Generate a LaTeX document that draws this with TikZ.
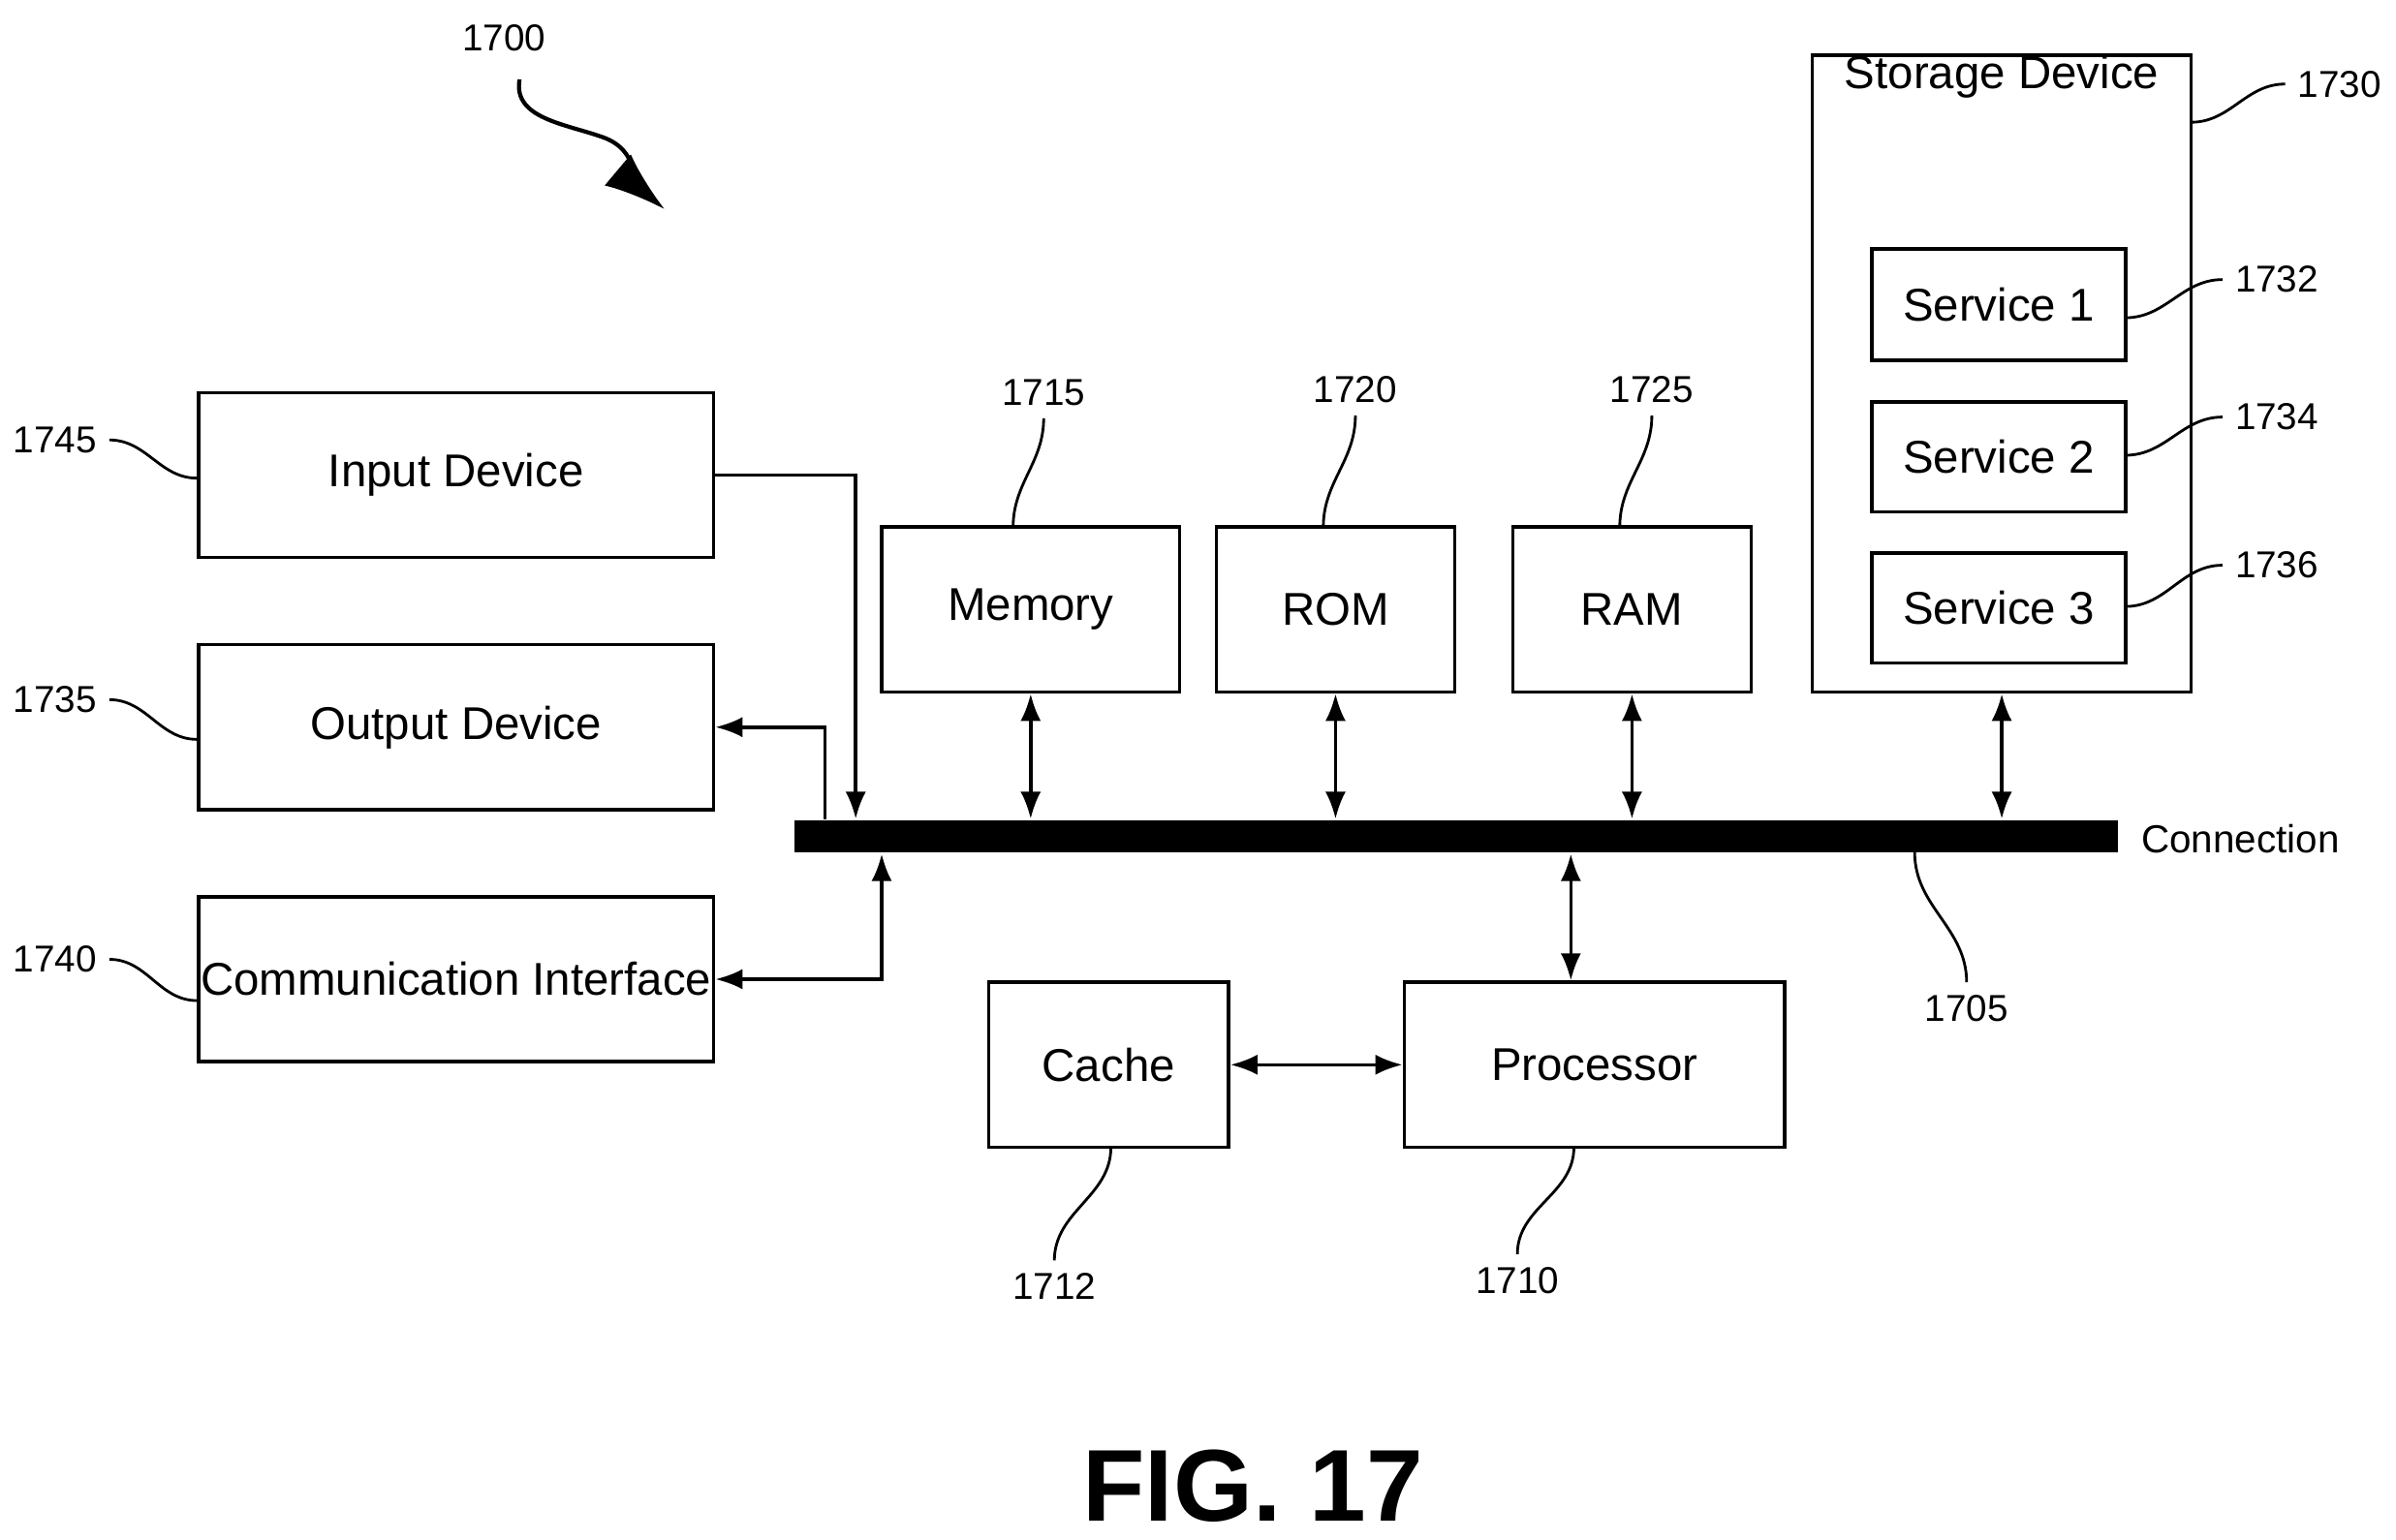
\documentclass[tikz,border=0pt]{standalone}
\usepackage{fontspec}
\setmainfont{Liberation Sans}
\usetikzlibrary{arrows.meta,positioning}

\begin{document}
\begin{tikzpicture}[x=0.01577cm,y=-0.01577cm,thick,
    box/.style={draw,line width=1pt,inner sep=0pt,font=\fontsize{13.5}{15}\selectfont},
    num/.style={font=\fontsize{11}{13}\selectfont},
    lead/.style={line width=0.8pt},
    link/.style={line width=1pt,-{Latex[length=8pt,width=6pt]}},
    both/.style={line width=1pt,{Latex[length=8pt,width=6pt]}-{Latex[length=8pt,width=6pt]}}]
  \useasboundingbox (0,0) rectangle (1568,1007.6);
  % boxes
  \newcommand{\blk}[6]{\node[box,minimum width={(#4-#2)*0.01577cm},minimum height={(#5-#3)*0.01577cm}]
    (#1) at ({(#2+#4)/2},{(#3+#5)/2}) {#6};}
  \blk{input}{130}{257}{467}{365}{Input Device}
  \blk{output}{130}{422}{467}{530}{Output Device}
  \blk{comm}{130}{587}{467}{695}{Communication Interface}
  \blk{mem}{577}{345}{772}{453}{Memory}
  \blk{rom}{796}{345}{952}{453}{ROM}
  \blk{ram}{990}{345}{1146}{453}{RAM}
  \blk{store}{1186}{36}{1434}{453}{}
  \node[box,draw=none,anchor=north] (storetitle) at (store.north) {\raisebox{-6pt}{Storage Device}};
  \blk{sone}{1225}{163}{1391}{236}{Service 1}
  \blk{stwo}{1225}{263}{1391}{335}{Service 2}
  \blk{sthree}{1225}{362}{1391}{434}{Service 3}
  \blk{cache}{647}{643}{804}{751}{Cache}
  \blk{proc}{919}{643}{1168}{751}{Processor}
  \node[fill,inner sep=0pt,minimum width={866*0.01577cm},minimum height={21*0.01577cm}] (bus) at (953,547.5) {};
  \node[anchor=west,font=\fontsize{11.5}{13}\selectfont] (conn) at (1393,549) {Connection};

  % connectors
  \draw[link] (input.east) -| (bus.north-|560,0);
  \draw[link] (bus.north-|540,0) |- (output.east);
  \draw[both] (comm.east) -| (bus.south-|577,0);
  \foreach \B in {mem,rom,ram} {\draw[both] (\B.south) -- (bus.north-|\B.south);}
  \draw[both] (store.south) -- (bus.north-|store.south);
  \draw[both] (bus.south-|1028,0) -- (proc.north-|1028,0);
  \draw[both] (cache.east) -- (proc.west);

  % reference numerals
  \node[num] (n1700) at (330,25) {1700};
  \draw[line width=1.2pt,-{Latex[length=18pt,width=12pt]}] (340,52) to[out=-100,in=160] (395,90) to[out=-20,in=140] (435,137);
  \node[num] (n1745) at (36,288) {1745};
  \draw[lead] (n1745.east) to[out=0,in=180] (input.west|-0,313);
  \node[num] (n1735) at (36,458) {1735};
  \draw[lead] (n1735.east) to[out=0,in=180] (output.west|-0,484);
  \node[num] (n1740) at (36,628) {1740};
  \draw[lead] (n1740.east) to[out=0,in=180] (comm.west|-0,655);
  \node[num] (n1715) at (683,257) {1715};
  \draw[lead] (n1715.south) to[out=-90,in=90] (663,345);
  \node[num] (n1720) at (887,255) {1720};
  \draw[lead] (n1720.south) to[out=-90,in=90] (866,345);
  \node[num] (n1725) at (1081,255) {1725};
  \draw[lead] (n1725.south) to[out=-90,in=90] (1060,345);
  \node[num] (n1730) at (1531,55) {1730};
  \draw[lead] (1434,80) to[out=0,in=180] (n1730.west);
  \node[num] (n1732) at (1490,183) {1732};
  \draw[lead] (1391,208) to[out=0,in=180] (n1732.west);
  \node[num] (n1734) at (1490,273) {1734};
  \draw[lead] (1391,298) to[out=0,in=180] (n1734.west);
  \node[num] (n1736) at (1490,370) {1736};
  \draw[lead] (1391,397) to[out=0,in=180] (n1736.west);
  \node[num] (n1705) at (1287,660) {1705};
  \draw[lead] (1253,558) to[out=-90,in=90] (n1705.north);
  \node[num] (n1712) at (690,842) {1712};
  \draw[lead] (n1712.north) to[out=90,in=-90] (727,751);
  \node[num] (n1710) at (993,838) {1710};
  \draw[lead] (n1710.north) to[out=90,in=-90] (1030,751);

  \node[font=\fontsize{30}{34}\bfseries] (fig) at (820,973) {FIG. 17};
\end{tikzpicture}
\end{document}
